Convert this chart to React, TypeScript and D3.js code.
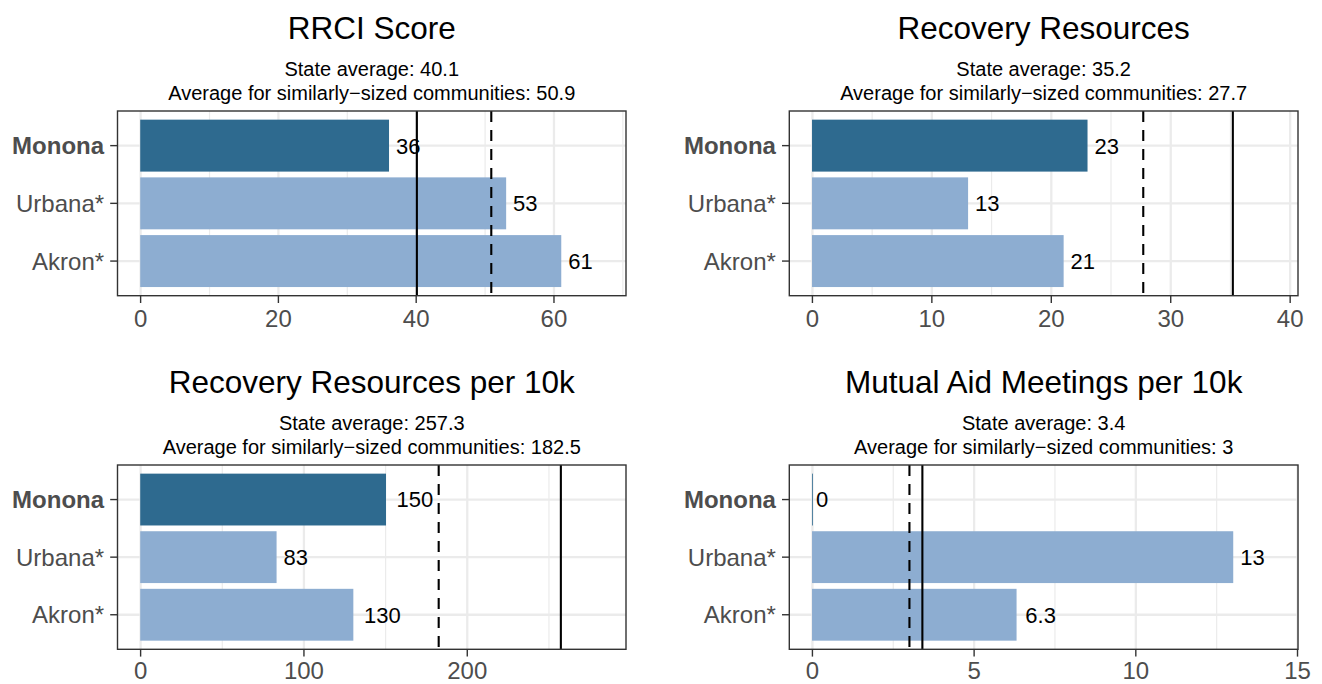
import React from "react";
import * as d3 from "d3";

// ---- data ----
const categories = ["Monona", "Urbana*", "Akron*"];
const highlighted = "Monona";
const panelTitles = [
  "RRCI Score",
  "Recovery Resources",
  "Recovery Resources per 10k",
  "Mutual Aid Meetings per 10k",
];
const rrciScore = [36, 53, 61];
const recoveryResources = [23, 13, 21];
const recoveryResourcesPer10k = [150, 83, 130];
const mutualAidPer10k = [0, 13, 6.3];
const stateAverage = [40.1, 35.2, 257.3, 3.4];
const similarAverage = [50.9, 27.7, 182.5, 3];
const similarAverageLabel = ["50.9", "27.7", "182.5", "3"];
const stateAverageLabel = ["40.1", "35.2", "257.3", "3.4"];
const majorTicks = [
  [0, 20, 40, 60],
  [0, 10, 20, 30, 40],
  [0, 100, 200],
  [0, 5, 10, 15],
];
const minorTicks = [
  [10, 30, 50, 70],
  [5, 15, 25, 35],
  [50, 150, 250],
  [2.5, 7.5, 12.5],
];
const seriesValues = [rrciScore, recoveryResources, recoveryResourcesPer10k, mutualAidPer10k];

// ---- layout / style ----
const W = 1322;
const H = 684;
const FONT = "'Liberation Sans', Arial, Helvetica, sans-serif";
const DARK = "#2E6A8F";
const LIGHT = "#8DADD1";
const GRID = "#EBEBEB";
const AXIS_TEXT = "#4D4D4D";
const AXIS_FONT = 24;
const frames = [
  { left: 117.5, right: 626, top: 111, bottom: 295.7 },
  { left: 789.3, right: 1298, top: 111, bottom: 295.7 },
  { left: 117.5, right: 626, top: 465, bottom: 649.3 },
  { left: 789.3, right: 1298, top: 465, bottom: 649.3 },
];

function Panel({ idx }: { idx: number }) {
  const f = frames[idx];
  const values = seriesValues[idx];
  const hi = (d3.max([...values, stateAverage[idx], similarAverage[idx]]) as number) * 1.1;
  const pad = hi * 0.05;
  const x = d3.scaleLinear().domain([-pad, hi + pad]).range([f.left, f.right]);
  const y = d3
    .scaleBand<string>()
    .domain(categories)
    .range([f.top, f.bottom])
    .paddingInner(0.1)
    .paddingOuter(0.15);
  const cx = (f.left + f.right) / 2;
  const labelFont = 22;
  const textWidth = (s: string) =>
    s.split("").reduce((a, c) => a + (c === "." ? 0.278 : 0.556), 0) * labelFont;
  const tickBaseline = Math.min(f.bottom + 31, H - 5.5);

  return (
    <g>
      <text x={cx} y={f.top - 72.3} textAnchor="middle" fontSize={31.5} fill="#000" fontFamily={FONT}>
        {panelTitles[idx]}
      </text>
      <text x={cx} y={f.top - 34.7} textAnchor="middle" fontSize={20} fill="#000" fontFamily={FONT}>
        {`State average: ${stateAverageLabel[idx]}`}
      </text>
      <text x={cx} y={f.top - 10.7} textAnchor="middle" fontSize={20} fill="#000" fontFamily={FONT}>
        {`Average for similarly\u2212sized communities: ${similarAverageLabel[idx]}`}
      </text>
      <rect x={f.left} y={f.top} width={f.right - f.left} height={f.bottom - f.top} fill="#fff" />
      {minorTicks[idx].map((t) => (
        <line key={"mn" + t} x1={x(t)} x2={x(t)} y1={f.top} y2={f.bottom} stroke={GRID} strokeWidth={1.2} />
      ))}
      {majorTicks[idx].map((t) => (
        <line key={"mj" + t} x1={x(t)} x2={x(t)} y1={f.top} y2={f.bottom} stroke={GRID} strokeWidth={2.3} />
      ))}
      {categories.map((c) => {
        const yc = (y(c) as number) + y.bandwidth() / 2;
        return <line key={"hg" + c} x1={f.left} x2={f.right} y1={yc} y2={yc} stroke={GRID} strokeWidth={2.3} />;
      })}
      {categories.map((c, i) => {
        const fill = c === highlighted ? DARK : LIGHT;
        return (
          <rect
            key={"bar" + c}
            x={x(0) - 0.4}
            y={y(c) as number}
            width={Math.max(x(values[i]) - x(0), 0) + 0.8}
            height={y.bandwidth()}
            fill={fill}
          />
        );
      })}
      <line
        x1={x(similarAverage[idx])}
        x2={x(similarAverage[idx])}
        y1={f.top}
        y2={f.bottom}
        stroke="#000"
        strokeWidth={2.1}
        strokeDasharray="11,8"
      />
      <line x1={x(stateAverage[idx])} x2={x(stateAverage[idx])} y1={f.top} y2={f.bottom} stroke="#000" strokeWidth={2.1} />
      {categories.map((c, i) => {
        const s = String(values[i]);
        const yc = (y(c) as number) + y.bandwidth() / 2;
        return (
          <text
            key={"lbl" + c}
            x={x(values[i]) + 0.3 * textWidth(s)}
            y={yc + labelFont * 0.358}
            fontSize={labelFont}
            fill="#000"
            fontFamily={FONT}
          >
            {s}
          </text>
        );
      })}
      <rect
        x={f.left}
        y={f.top}
        width={f.right - f.left}
        height={f.bottom - f.top}
        fill="none"
        stroke="#333333"
        strokeWidth={1.4}
      />
      {majorTicks[idx].map((t) => (
        <g key={"xt" + t}>
          <line x1={x(t)} x2={x(t)} y1={f.bottom} y2={f.bottom + 7.3} stroke="#333333" strokeWidth={1.4} />
          <text x={x(t)} y={tickBaseline} textAnchor="middle" fontSize={AXIS_FONT} fill={AXIS_TEXT} fontFamily={FONT}>
            {t}
          </text>
        </g>
      ))}
      {categories.map((c) => {
        const yc = (y(c) as number) + y.bandwidth() / 2;
        return (
          <g key={"yt" + c}>
            <line x1={f.left - 7.3} x2={f.left} y1={yc} y2={yc} stroke="#333333" strokeWidth={1.4} />
            <text
              x={f.left - 13.4}
              y={yc + AXIS_FONT * 0.358}
              textAnchor="end"
              fontSize={AXIS_FONT}
              fontWeight={c === highlighted ? "bold" : "normal"}
              fill={AXIS_TEXT}
              fontFamily={FONT}
            >
              {c}
            </text>
          </g>
        );
      })}
    </g>
  );
}

export default function App() {
  return (
    <svg
      width={W}
      height={H}
      viewBox={`0 0 ${W} ${H}`}
      style={{ position: "absolute", left: 0, top: 0, background: "#fff" }}
    >
      <rect x={0} y={0} width={W} height={H} fill="#fff" />
      {panelTitles.map((_, i) => (
        <Panel key={i} idx={i} />
      ))}
    </svg>
  );
}
